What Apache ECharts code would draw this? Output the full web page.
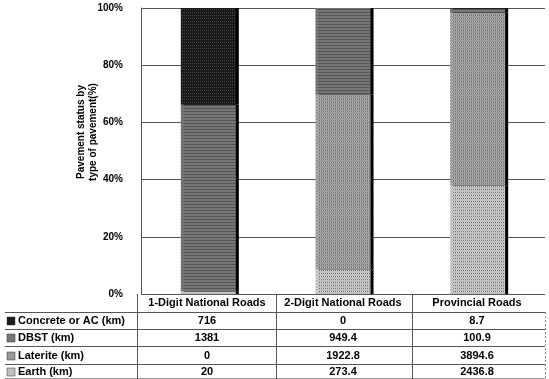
<!DOCTYPE html>
<html>
<head>
<meta charset="utf-8">
<script src="https://cdn.jsdelivr.net/npm/echarts@6/dist/echarts.min.js"></script>
<style>
  html, body { margin: 0; padding: 0; background: #fff; }
  #chart { width: 549px; height: 379px; }
</style>
</head>
<body>
<div id="chart"></div>
<script>
// road types (columns of the table)
var categories = ['1-Digit National Roads', '2-Digit National Roads', 'Provincial Roads'];
// km by pavement type
var concrete = [716, 0, 8.7];
var dbst = [1381, 949.4, 100.9];
var laterite = [0, 1922.8, 3894.6];
var earth = [20, 273.4, 2436.8];
var rowNames = ['Concrete or AC (km)', 'DBST (km)', 'Laterite (km)', 'Earth (km)'];
var yTicks = [0, 20, 40, 60, 80, 100];

var fontFamily = 'Liberation Sans, Arial, sans-serif';
var lineColor = '#555';
var colors = ['#1c1c1c', '#767676', '#9a9a9a', '#c0c0c0']; // concrete, dbst, laterite, earth

drawChart();

function pct(arr){
    return arr.map(function(v, i){
        var tot = concrete[i] + dbst[i] + laterite[i] + earth[i];
        return v / tot * 100;
    });
}

function drawChart(){
    var myChart = echarts.init(document.getElementById('chart'));

    var rows = [concrete, dbst, laterite, earth];
    var rowY = [321, 338, 356, 372];
    var colX = [207, 343, 477];
    var hLines = [312, 329, 346, 364, 378];
    var tableFont = 'bold 11px ' + fontFamily;
    var g = [];

    // header row
    categories.forEach(function(c, i){
        g.push({type: 'text', x: colX[i], y: 303, style: {text: c, align: 'center', verticalAlign: 'middle',
            font: tableFont, fill: '#000'}});
    });
    // row labels + keys + values
    rows.forEach(function(r, j){
        g.push({type: 'rect', shape: {x: 7, y: rowY[j] - 4, width: 8, height: 8},
            style: {fill: colors[j], stroke: '#333', lineWidth: 0.5}});
        g.push({type: 'text', x: 18, y: rowY[j], style: {text: rowNames[j], align: 'left', verticalAlign: 'middle',
            font: tableFont, fill: '#000'}});
        r.forEach(function(v, i){
            g.push({type: 'text', x: colX[i], y: rowY[j], style: {text: String(v), align: 'center', verticalAlign: 'middle',
                font: tableFont, fill: '#000'}});
        });
    });
    // table lines
    hLines.forEach(function(y, k){
        g.push({type: 'line', shape: {x1: 5, y1: y + 0.5, x2: 545, y2: y + 0.5},
            style: {stroke: k === hLines.length - 1 ? '#999' : lineColor, lineWidth: 1}});
    });
    [137, 276, 412].forEach(function(x){
        g.push({type: 'line', shape: {x1: x + 0.5, y1: 294, x2: x + 0.5, y2: 379},
            style: {stroke: lineColor, lineWidth: 1}});
    });
    g.push({type: 'line', shape: {x1: 545.5, y1: 312, x2: 545.5, y2: 379},
        style: {stroke: '#888', lineWidth: 1, lineDash: [2, 2]}});

    // y axis title
    g.push({type: 'text', x: 87, y: 132, rotation: Math.PI / 2,
        style: {text: 'Pavement status by\ntype of pavement(%)', align: 'center', verticalAlign: 'middle',
            font: 'bold 10px ' + fontFamily, fill: '#000', lineHeight: 12}});

    function decal(c){
        return {symbol: 'rect', symbolSize: 1, color: c, dashArrayX: [1, 1], dashArrayY: [1, 2], rotation: 0};
    }

    function bar(name, data, color, dc){
        return {
            name: name,
            type: 'bar',
            stack: 'all',
            barWidth: 55,
            data: pct(data),
            itemStyle: {color: color, shadowColor: '#000', shadowOffsetX: 3, shadowBlur: 0, decal: decal(dc)},
            emphasis: {disabled: true}
        };
    }

    var option = {
        animation: false,
        grid: {left: 141, right: 4, top: 8, bottom: 85},
        xAxis: {
            type: 'category',
            data: categories,
            axisLine: {show: false},
            axisTick: {show: false},
            axisLabel: {show: false}
        },
        yAxis: {
            type: 'value',
            min: yTicks[0],
            max: yTicks[yTicks.length - 1],
            interval: 20,
            axisLine: {show: true, lineStyle: {color: lineColor}},
            axisTick: {show: false},
            splitLine: {lineStyle: {color: lineColor, width: 1}},
            axisLabel: {
                formatter: '{value}%',
                margin: 18,
                color: '#000',
                fontWeight: 'bold',
                fontSize: 10,
                fontFamily: fontFamily
            }
        },
        series: [
            bar('Earth (km)', earth, colors[3], 'rgba(255,255,255,0.45)'),
            bar('Laterite (km)', laterite, colors[2], 'rgba(255,255,255,0.35)'),
            bar('DBST (km)', dbst, colors[1], 'rgba(40,40,40,0.35)'),
            bar('Concrete or AC (km)', concrete, colors[0], 'rgba(120,120,120,0.5)')
        ],
        graphic: g
    };
    myChart.setOption(option);
}
</script>
</body>
</html>
